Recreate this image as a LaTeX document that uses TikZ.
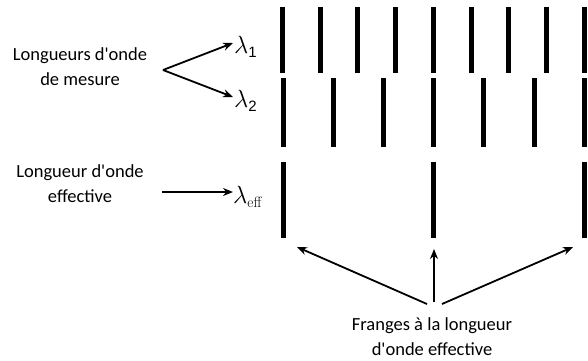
\documentclass[tikz,border=0pt]{standalone}
\usepackage{fontspec}
\setmainfont{Carlito}[Ligatures=TeXOff]
\newfontfamily\lmr{Latin Modern Roman}
\newfontfamily\lsans{Liberation Sans}
\usetikzlibrary{arrows.meta}
\begin{document}
\begin{tikzpicture}[x=1pt,y=-1pt,
  bar/.style={line width=5pt},
  arr/.style={line width=1.8pt,-{Stealth[length=10pt,width=8pt]}},
  lbl/.style={font=\fontsize{18.5}{25}\selectfont,align=center,inner sep=0pt},
  lam/.style={inner sep=0pt,anchor=west}]
\useasboundingbox (0,0) rectangle (588,360);
% row 1
\foreach \i in {0,...,8} {
  \draw[bar] ({282.5+\i*37.7},7) -- ({282.5+\i*37.7},73);
}
% row 2
\foreach \i in {0,...,6} {
  \draw[bar] ({283+\i*50.2},78) -- ({283+\i*50.2},147);
}
% row 3
\foreach \i in {0,...,2} {
  \draw[bar] ({283+\i*150.5},162) -- ({283+\i*150.5},238);
}
\node[lbl] (mes) at (80,67) {Longueurs d'onde\\de mesure};
\node[lbl] (eff) at (80,184) {Longueur d'onde\\effective};
\node[lbl] (fr) at (432,337) {Franges à la longueur\\d'onde effective};
\node[lam] (l1) at (234,47) {\fontsize{24}{24}\selectfont$\lambda$\raisebox{-4pt}{\lsans\fontsize{15}{15}\selectfont 1}};
\node[lam] (l2) at (234,101) {\fontsize{24}{24}\selectfont$\lambda$\raisebox{-4pt}{\lsans\fontsize{15}{15}\selectfont 2}};
\node[lam] (le) at (233,197) {\fontsize{24}{24}\selectfont$\lambda$\raisebox{-4pt}{\lmr\fontsize{15}{15}\selectfont eff}};
\coordinate (v) at (163,70);
\draw[arr] (v) -- (233,43);
\draw[arr] (v) -- (233,97);
\draw[arr] (162,192) -- (le.west |- 0,192);
\coordinate (f1) at (427,304);
\coordinate (f2) at (434,302);
\coordinate (f3) at (442,304);
\draw[arr] (f1) -- (297,247);
\draw[arr] (f2) -- (434,249);
\draw[arr] (f3) -- (573,247);
\end{tikzpicture}
\end{document}
